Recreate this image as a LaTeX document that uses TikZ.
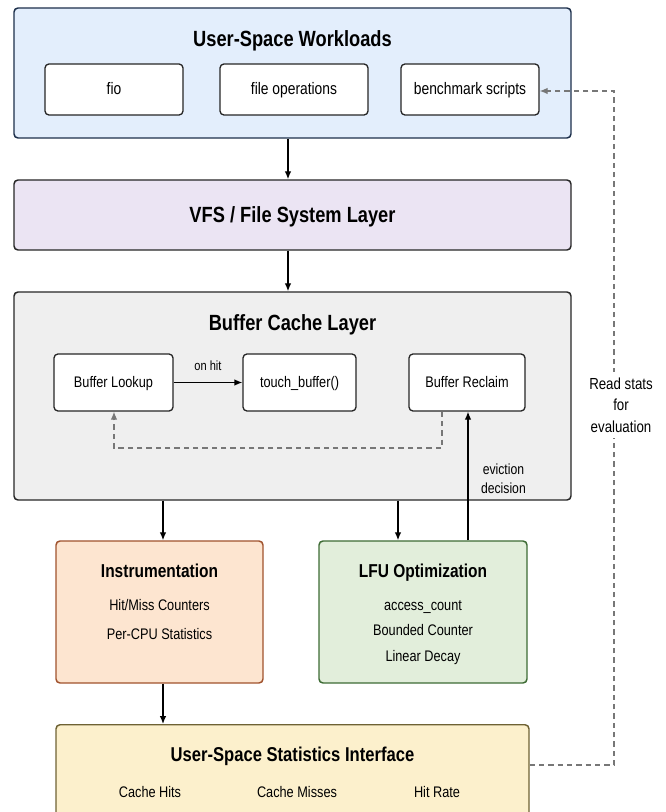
\documentclass[tikz,border=0pt]{standalone}
\usepackage{fontspec}
\setmainfont{Liberation Sans}[FakeStretch=0.83]
\usepackage{xcolor}
\usetikzlibrary{positioning,arrows.meta}

\definecolor{wlfill}{HTML}{E3EEFC}
\definecolor{wldraw}{HTML}{1C2E4A}
\definecolor{vfsfill}{HTML}{EBE4F3}
\definecolor{bcfill}{HTML}{EFEFEF}
\definecolor{insfill}{HTML}{FDE5D0}
\definecolor{insdraw}{HTML}{A0522D}
\definecolor{lfufill}{HTML}{E2EEDB}
\definecolor{lfudraw}{HTML}{3D6B34}
\definecolor{stfill}{HTML}{FCF0CC}
\definecolor{stdraw}{HTML}{6E6234}
\definecolor{dashgray}{HTML}{777777}

\begin{document}
\begin{tikzpicture}[
    x=0.75pt, y=-0.75pt,
    layer/.style={
        draw=black!85,
        rectangle,
        rounded corners=3pt,
        line width=1.1pt
    },
    inbox/.style={
        draw=black!85,
        fill=white,
        rectangle,
        rounded corners=3pt,
        line width=1pt,
        align=center,
        text height=8.5pt,
        text depth=1.5pt
    },
    title/.style={
        font=\bfseries\fontsize{16.5}{20}\selectfont,
        text height=12pt,
        text depth=0.5pt
    },
    subtitle/.style={
        font=\bfseries\fontsize{14}{17}\selectfont,
        text height=10pt,
        text depth=0pt
    },
    item/.style={
        font=\fontsize{11.5}{14}\selectfont,
        text height=8pt,
        text depth=1pt
    },
    arrow/.style={
        -{Latex[length=6pt,width=5pt]},
        line width=1pt
    },
    dasharrow/.style={
        -{Latex[length=6pt,width=5pt]},
        line width=1pt,
        dashed,
        dash pattern=on 4pt off 3pt,
        draw=dashgray
    },
    node distance=0.18cm
]
\clip (0,0) rectangle (665,812);

% layers
\node[layer, fill=wlfill, draw=wldraw, minimum width=557*0.75pt, minimum height=130*0.75pt] (wl) at (292.5,73) {};
\node[title] (wltitle) at (292.5,39) {User-Space Workloads};
\node[inbox, font=\fontsize{12.5}{15}\selectfont, minimum width=138*0.75pt, minimum height=51*0.75pt] (fio) at (114,89.5) {fio};
\node[inbox, font=\fontsize{12.5}{15}\selectfont, minimum width=148*0.75pt, minimum height=51*0.75pt] (fops) at (294,89.5) {file operations};
\node[inbox, font=\fontsize{12.5}{15}\selectfont, minimum width=138*0.75pt, minimum height=51*0.75pt] (bench) at (470,89.5) {benchmark scripts};

\node[layer, fill=vfsfill, minimum width=557*0.75pt, minimum height=70*0.75pt] (vfs) at (292.5,215) {};
\node[title] (vfstitle) at (292.5,215) {VFS / File System Layer};

\node[layer, fill=bcfill, minimum width=557*0.75pt, minimum height=208*0.75pt] (bc) at (292.5,396) {};
\node[title] (bctitle) at (292.5,323) {Buffer Cache Layer};
\node[inbox, font=\fontsize{11.5}{14}\selectfont, minimum width=119*0.75pt, minimum height=57*0.75pt] (lookup) at (113.5,382.5) {Buffer Lookup};
\node[inbox, font=\fontsize{11.5}{14}\selectfont, minimum width=113*0.75pt, minimum height=57*0.75pt] (touch) at (299.5,382.5) {touch\_buffer()};
\node[inbox, font=\fontsize{11.5}{14}\selectfont, minimum width=116*0.75pt, minimum height=57*0.75pt] (reclaim) at (467,382.5) {Buffer Reclaim};

\node[layer, fill=insfill, draw=insdraw, minimum width=207*0.75pt, minimum height=142*0.75pt] (ins) at (159.5,612) {};
\node[subtitle] (institle) at (159.5,571) {Instrumentation};
\node[item] (insa) at (159.5,606) {Hit/Miss Counters};
\node[item] (insb) at (159.5,635) {Per-CPU Statistics};

\node[layer, fill=lfufill, draw=lfudraw, minimum width=208*0.75pt, minimum height=142*0.75pt] (lfu) at (423,612) {};
\node[subtitle] (lfutitle) at (423,571) {LFU Optimization};
\node[item] (lfua) at (423,606) {access\_count};
\node[item] (lfub) at (423,631) {Bounded Counter};
\node[item] (lfuc) at (423,657) {Linear Decay};

\node[layer, fill=stfill, draw=stdraw, minimum width=473*0.75pt, minimum height=120*0.75pt, anchor=north] (st) at (292.5,724) {};
\node[subtitle, font=\bfseries\fontsize{15}{18}\selectfont] (sttitle) at (292.5,755) {User-Space Statistics Interface};
\node[item] (sta) at (150,793) {Cache Hits};
\node[item] (stb) at (297,793) {Cache Misses};
\node[item] (stc) at (437,793) {Hit Rate};

% helper points
\coordinate (rt) at (614,765);
\coordinate (rb) at (614,91);
\coordinate (lp) at (114,448);
\coordinate (rp) at (442,448);

% solid flows
\draw[arrow] (wl.south -| 288,0) -- (vfs.north -| 288,0);
\draw[arrow] (vfs.south -| 288,0) -- (bc.north -| 288,0);
\draw[arrow] (lookup) -- node[above=5pt, font=\fontsize{10}{12}\selectfont] {on hit} (touch);
\draw[arrow] (bc.south -| 163,0) -- (ins.north -| 163,0);
\draw[arrow] (bc.south -| 398,0) -- (lfu.north -| 398,0);
\draw[arrow] (lfu.north -| 468,0) -- node[right=6pt, align=center, font=\fontsize{11}{14}\selectfont, pos=0.48] {eviction\\decision} (reclaim.south -| 468,0);
\draw[arrow] (ins.south -| 163,0) -- (st.north -| 163,0);

% dashed feedback
\draw[dasharrow] (reclaim.south -| rp) -- (rp) -- (lp) -- (lookup.south -| lp);
\draw[dasharrow] (st.east |- rt) -- (rt) -- (rb) -- (bench.east |- rb);
\node[fill=white, align=center, inner sep=4pt, font=\fontsize{12}{16}\selectfont] (readlbl) at (621,405) {Read stats\\for\\evaluation};

\end{tikzpicture}
\end{document}
